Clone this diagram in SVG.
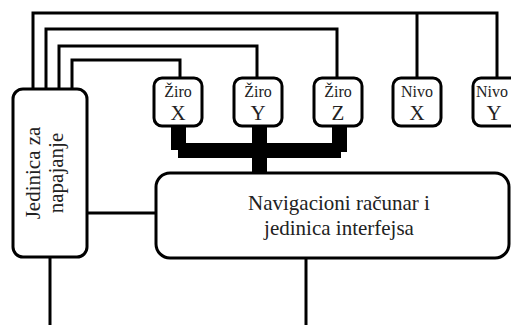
<svg xmlns="http://www.w3.org/2000/svg" width="511" height="325" viewBox="0 0 511 325">
<style>
.box{fill:#fff;stroke:#000;stroke-width:3}
.w{fill:none;stroke:#000;stroke-width:3}
text{font-family:"Liberation Serif","Times New Roman",serif;fill:#222;text-anchor:middle}
.s{font-size:16px}
.b{font-size:21px}
.n{font-size:21px}
</style>
<rect width="511" height="325" fill="#fff"/>
<g id="connectors">
<path class="w" d="M33,89 V13 H497 V78 M417,13 V78"/>
<path class="w" d="M46,89 V29 H337 V78"/>
<path class="w" d="M59,89 V46 H257 V78"/>
<path class="w" d="M72,89 V60 H180 V78"/>
<path class="w" d="M87,213 H156"/>
<path class="w" d="M50,257 V325"/>
<path class="w" d="M306,258 V325"/>
<path id="bus" fill="#000" d="M171,126 H186 V143 H252 V126 H267 V143 H332 V126 H347 V152 H341 V158 H267 V173 H252 V158 H178 V150 H171 Z"/>
</g>
<g id="power">
<rect class="box" x="13" y="89" width="74" height="168" rx="10"/>
<g transform="translate(50,173) rotate(-90)">
<text class="n" x="0" y="-10">Jedinica za</text>
<text class="n" x="0" y="13">napajanje</text>
</g>
</g>
<g id="nav">
<rect class="box" x="156" y="173" width="353" height="85" rx="14"/>
<text class="n" x="339" y="210">Navigacioni računar i</text>
<text class="n" x="339" y="235">jedinica interfejsa</text>
</g>
<g id="ziroX">
<rect class="box" x="154" y="78" width="48" height="48" rx="8"/>
<text class="s" x="178" y="97">Žiro</text>
<text class="b" x="178" y="120">X</text>
</g>
<g id="ziroY">
<rect class="box" x="234" y="78" width="48" height="48" rx="8"/>
<text class="s" x="258" y="97">Žiro</text>
<text class="b" x="258" y="120">Y</text>
</g>
<g id="ziroZ">
<rect class="box" x="314" y="78" width="48" height="48" rx="8"/>
<text class="s" x="338" y="97">Žiro</text>
<text class="b" x="338" y="120">Z</text>
</g>
<g id="nivoX">
<rect class="box" x="393" y="78" width="48" height="48" rx="8"/>
<text class="s" x="417" y="97">Nivo</text>
<text class="b" x="417" y="120">X</text>
</g>
<g id="nivoY">
<rect class="box" x="473" y="78" width="48" height="48" rx="8"/>
<text class="s" x="492" y="97">Nivo</text>
<text class="b" x="494" y="120">Y</text>
</g>
</svg>
